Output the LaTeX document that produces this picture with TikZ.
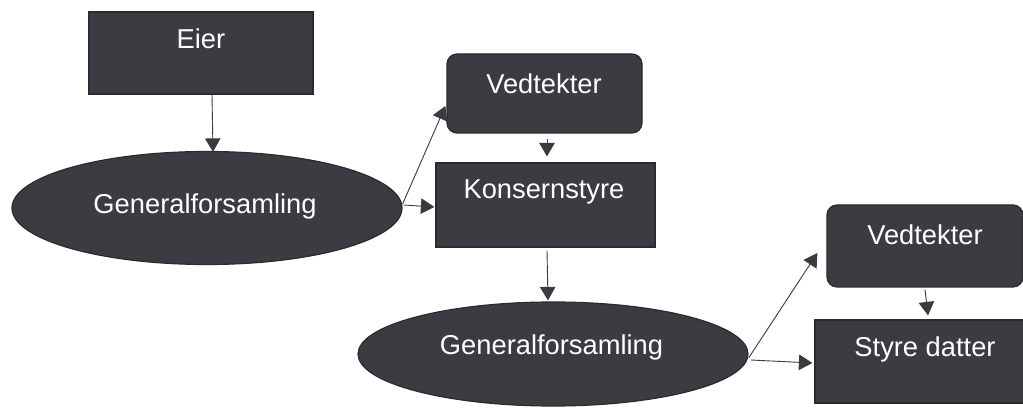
\documentclass[tikz,border=0pt]{standalone}
\usepackage{fontspec}
\setmainfont{Liberation Sans}
\usetikzlibrary{arrows.meta,shapes.geometric}
\definecolor{boxfill}{HTML}{3B3B42}
\definecolor{boxline}{HTML}{2A2A2F}
\definecolor{arrowcol}{HTML}{3A3A40}
\begin{document}
\begin{tikzpicture}[x=1pt,y=-1pt,
  shapebox/.style={draw=boxline,fill=boxfill,line width=1.2pt,inner sep=0pt,rectangle},
  roundbox/.style={shapebox,rounded corners=10pt},
  ellbox/.style={draw=boxline,fill=boxfill,line width=1.2pt,inner sep=0pt,ellipse},
  lbl/.style={text=white,font=\fontsize{27.3}{30}\selectfont,anchor=base,inner sep=0pt},
  conn/.style={draw=arrowcol,line width=0.9pt,-{Triangle[length=13.5pt,width=15.5pt]}}]
\useasboundingbox (0,0) rectangle (1023,411);
\node[shapebox,minimum width=224pt,minimum height=82pt] (eier) at (201,53) {};
\node[ellbox,minimum width=390pt,minimum height=113pt] (gf1) at (207,208) {};
\node[roundbox,minimum width=195pt,minimum height=79pt] (ved1) at (544.5,93.5) {};
\node[shapebox,minimum width=219pt,minimum height=84pt] (kons) at (545.5,205) {};
\node[ellbox,minimum width=390pt,minimum height=104pt] (gf2) at (553,354) {};
\node[roundbox,minimum width=196pt,minimum height=82pt] (ved2) at (925,246) {};
\node[shapebox,minimum width=220pt,minimum height=83pt] (styre) at (925,361.5) {};
\node[lbl] (eiert) at (201,49) {Eier};
\node[lbl] (gf1t) at (205,214) {Generalforsamling};
\node[lbl] (ved1t) at (544,94) {Vedtekter};
\node[lbl] (konst) at (544,199) {Konsernstyre};
\node[lbl] (gf2t) at (551.5,355) {Generalforsamling};
\node[lbl] (ved2t) at (925,245) {Vedtekter};
\node[lbl] (styret) at (925,357) {Styre datter};
\draw[conn] ([xshift=11pt]eier.south) -- ([xshift=6pt,yshift=-1pt]gf1.north);
\draw[conn] ([yshift=4pt]gf1.east) -- ([xshift=-1pt,yshift=-12.5pt]ved1.west);
\draw[conn] ([xshift=1pt,yshift=3pt]gf1.east) -- ([xshift=-1pt,yshift=-2pt]kons.west);
\draw[conn] ([xshift=2.5pt,yshift=-5pt]ved1.south) -- ([xshift=1.5pt,yshift=6pt]kons.north);
\draw[conn] ([xshift=1.5pt,yshift=-3pt]kons.south) -- ([xshift=-5pt,yshift=1pt]gf2.north);
\draw[conn] ([yshift=-4pt]gf2.east) -- ([xshift=-9pt,yshift=-7pt]ved2.west);
\draw[conn] ([xshift=2pt,yshift=-6pt]gf2.east) -- ([xshift=-2pt,yshift=-1.5pt]styre.west);
\draw[conn] ([yshift=-2pt]ved2.south) -- ([xshift=3pt,yshift=4pt]styre.north);
\end{tikzpicture}
\end{document}
